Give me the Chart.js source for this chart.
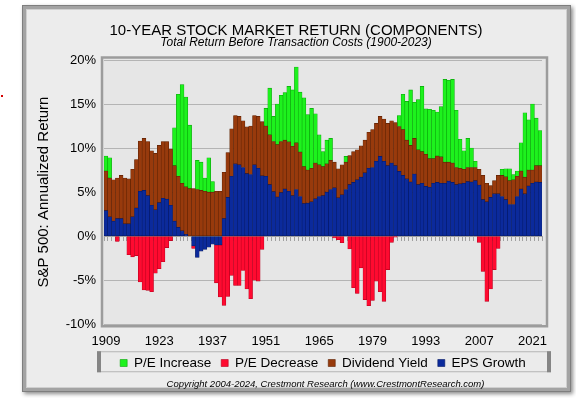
<!DOCTYPE html>
<html>
<head>
<meta charset="utf-8">
<script src="https://cdn.jsdelivr.net/npm/chart.js@4.4.1/dist/chart.umd.min.js"></script>
<style>
  html, body { margin: 0; padding: 0; background: #fff; }
  #wrap { width: 576px; height: 398px; }
</style>
</head>
<body>
<div id="wrap"><canvas id="chart" width="576" height="398"></canvas></div>
<script>
// 10-year periods ending 1909 ... 2023
const years = [];
for (let y = 1909; y <= 2023; y++) years.push(String(y));

const tickYears = ['1909', '1923', '1937', '1951', '1965', '1979', '1993', '2007', '2021'];

// annualized % contribution of each component
const epsGrowth = [
    2.9, 2.2, 1.7, 2.0, 2.0, 1.4, 1.4, 2.2, 3.2, 5.1,
    5.2, 4.6, 3.5, 3.0, 3.8, 4.3, 4.2, 3.5, 1.7, 1.0,
    0.6, 0.2, 0.0, -1.1, -2.4, -1.7, -1.5, -1.25, -0.9, -1.0,
    -1.0, 2.0, 4.4, 6.8, 8.2, 8.1, 7.8, 7.1, 7.0, 8.1,
    7.7, 6.85, 6.8, 5.85, 5.05, 4.45, 4.95, 5.35, 5.1, 4.6,
    5.3, 4.5, 3.7, 3.75, 3.9, 4.25, 4.5, 4.6, 5.0, 5.3,
    5.5, 4.35, 4.7, 5.3, 5.85, 6.1, 6.4, 6.7, 7.2, 7.7,
    7.8, 8.5, 9.05, 8.5, 8.0, 8.3, 8.0, 7.35, 6.9, 6.5,
    6.15, 7.05, 5.85, 6.0, 5.65, 5.55, 6.0, 6.1, 6.0, 6.0,
    6.25, 6.1, 5.85, 5.95, 6.0, 6.2, 6.15, 6.3, 5.8, 4.15,
    3.9, 4.4, 4.8, 4.8, 4.5, 4.15, 3.6, 3.6, 4.5, 5.35,
    4.8, 5.7, 6.0, 6.15, 6.1
];

const dividendYield = [
    4.5, 4.4, 4.7, 4.6, 4.9, 5.2, 5.1, 5.4, 5.5, 5.7,
    5.9, 6.15, 6.2, 6.4, 6.5, 6.45, 6.55, 6.4, 6.3, 5.8,
    5.4, 5.4, 5.4, 5.4, 5.3, 5.2, 5.1, 5.0, 5.0, 5.1,
    5.1, 5.25, 5.1, 5.4, 5.5, 5.5, 5.3, 5.3, 5.5, 5.6,
    5.9, 6.15, 5.7, 5.65, 5.7, 5.95, 5.8, 5.55, 5.6, 5.6,
    5.3, 5.05, 4.2, 3.75, 3.8, 4.05, 3.6, 3.3, 3.2, 3.3,
    2.9, 3.3, 3.4, 3.1, 3.3, 3.5, 3.4, 3.55, 3.7, 4.1,
    4.3, 4.3, 4.55, 4.8, 4.8, 4.8, 4.9, 5.1, 5.2, 4.4,
    4.15, 4.05, 3.95, 3.6, 3.65, 3.25, 2.8, 3.0, 3.0, 2.4,
    2.15, 2.2, 1.95, 1.75, 1.6, 1.6, 1.65, 1.5, 1.8, 2.75,
    2.1, 1.35, 1.5, 2.1, 2.4, 2.6, 2.7, 2.8, 2.3, 2.05,
    1.9, 1.8, 1.5, 1.85, 1.9
];

// change in P/E (positive = increase, negative = decrease)
const peChange = [
    1.7, 2.3, 0, -0.6, 0, 0, -2.1, -2.35, -2.2, -5.2,
    -6.1, -6.15, -6.3, -4.2, -3.7, -2.9, -1.3, -0.5, 4.3, 9.3,
    11.2, 10.2, 7.2, -0.3, 3.3, 3.2, 1.5, 3.9, 1.2, -4.3,
    -5.9, -7.85, -6.85, -4.45, -5.6, -5.6, -3.9, -6.0, -7.1, -5.0,
    -5.1, -1.5, 2.0, 5.3, 2.85, 4.6, 5.25, 5.4, 6.3, 6.4,
    8.6, 6.8, 7.8, 6.3, 6.8, 5.6, 3.4, 1.7, 2.7, 2.5,
    -0.2, -0.4, -0.75, 0.65, -1.45, -5.85, -6.5, -3.6, -7.2, -7.9,
    -7.3, -5.1, -6.3, -7.4, -3.8, -0.7, -0.1, 1.25, 4.0, 4.4,
    6.3, 4.1, 5.7, 7.4, 5.15, 5.6, 5.5, 5.0, 5.7, 9.4,
    9.3, 9.5, 6.5, 3.3, 2.1, 3.3, 2.2, 0.7, -0.7, -4.0,
    -7.4, -6.0, -3.8, -1.4, 0.7, 0.9, 1.35, 0.6, 0.6, 3.2,
    7.3, 5.7, 7.5, 5.4, 4.0
];

const peIncrease = peChange.map(v => v > 0 ? v : null);
const peDecrease = peChange.map(v => v < 0 ? v : null);

const legendOrder = ['P/E Increase', 'P/E Decrease', 'Dividend Yield', 'EPS Growth'];

Chart.defaults.font.family = '"Liberation Sans", Arial, sans-serif';
Chart.defaults.color = '#000';

// panel, plot box, legend box and the footer line
const framePlugin = {
    id: 'frames',
    beforeDraw(chart) {
        const { ctx, chartArea: a } = chart;
        ctx.save();
        ctx.fillStyle = '#fff';
        ctx.fillRect(0, 0, chart.width, chart.height);

        // outer panel
        ctx.shadowColor = 'rgba(0,0,0,0.45)';
        ctx.shadowBlur = 4;
        ctx.shadowOffsetX = 2;
        ctx.shadowOffsetY = 2;
        ctx.fillStyle = '#ececec';
        ctx.fillRect(22, 5, 549, 387);
        ctx.shadowColor = 'transparent';
        ctx.lineWidth = 4;
        ctx.strokeStyle = '#a3a3a3';
        ctx.strokeRect(24, 7, 545, 383);
        ctx.lineWidth = 1;
        ctx.strokeStyle = '#7e7e7e';
        ctx.strokeRect(22.5, 5.5, 548, 386);
        ctx.strokeStyle = '#cfcfcf';
        ctx.strokeRect(26.5, 9.5, 540, 378);

        // plot background
        ctx.fillStyle = '#e6e6e6';
        ctx.fillRect(a.left - 1, a.top - 2, a.right - a.left + 6, a.bottom - a.top + 4);

        // legend box
        const ly = a.bottom + 27;
        const lx = a.left - 7;
        const lw = a.right - a.left + 16;
        ctx.fillStyle = '#ebebeb';
        ctx.fillRect(lx, ly, lw, 21);
        ctx.strokeStyle = '#b4b4b4';
        ctx.strokeRect(lx + 0.5, ly + 0.5, lw - 1, 20);
        ctx.fillStyle = '#858585';
        ctx.fillRect(lx, ly, 4, 21);
        ctx.fillRect(lx + lw - 4, ly, 4, 21);

        // red mark at the far left
        ctx.fillStyle = '#d40000';
        ctx.fillRect(1, 95, 2, 2);
        ctx.restore();
    },
    afterDraw(chart) {
        const { ctx, chartArea: a } = chart;
        ctx.save();
        ctx.lineWidth = 2.5;
        ctx.strokeStyle = '#9c9c9c';
        ctx.strokeRect(a.left - 2, a.top - 2.5, a.right - a.left + 7, a.bottom - a.top + 4.5);

        ctx.fillStyle = '#000';
        ctx.font = 'italic 9.5px "Liberation Sans", Arial, sans-serif';
        ctx.textAlign = 'center';
        ctx.textBaseline = 'middle';
        ctx.fillText('Copyright 2004-2024, Crestmont Research (www.CrestmontResearch.com)',
            (a.left + a.right + 5) / 2, 384);
        ctx.restore();
    }
};

const barStyle = { barPercentage: 1, categoryPercentage: 1, borderWidth: 0.6, borderSkipped: false };

new Chart(document.getElementById('chart'), {
    type: 'bar',
    data: {
        labels: years,
        datasets: [
            Object.assign({ label: 'EPS Growth', data: epsGrowth, backgroundColor: '#0b2a9c', borderColor: '#061a66' }, barStyle),
            Object.assign({ label: 'Dividend Yield', data: dividendYield, backgroundColor: '#983a0c', borderColor: '#5e2204' }, barStyle),
            Object.assign({ label: 'P/E Increase', data: peIncrease, backgroundColor: '#1df21d', borderColor: '#0aa40a' }, barStyle),
            Object.assign({ label: 'P/E Decrease', data: peDecrease, backgroundColor: '#ff0a30', borderColor: '#b8001e' }, barStyle),
        ],
    },
    options: {
        responsive: false,
        animation: false,
        devicePixelRatio: 1,
        layout: { padding: { top: 23.5, left: 22, right: 6, bottom: 18.25 } },
        scales: {
            x: {
                stacked: true,
                grid: { display: false, drawTicks: false },
                border: { display: false },
                ticks: {
                    autoSkip: false,
                    maxRotation: 0,
                    padding: 9.5,
                    font: { size: 13 },
                    callback: function(val) {
                        const y = this.getLabelForValue(val);
                        return tickYears.includes(y) ? y : '';
                    },
                },
                afterFit: s => { s.height -= 12.6; },
            },
            xZero: {
                type: 'category',
                position: { y: 0 },
                offset: true,
                grid: { display: true, drawOnChartArea: false, drawTicks: true, tickLength: 4, color: '#a0a0a0', offset: true },
                border: { display: true, color: '#a0a0a0' },
                ticks: { display: false },
            },
            y: {
                stacked: true,
                min: -10,
                max: 20,
                ticks: { stepSize: 5, padding: 8, font: { size: 13 }, callback: v => v + '%' },
                grid: { color: '#b4b4b4', drawTicks: false },
                border: { display: false },
                title: {
                    display: true,
                    text: 'S&P 500: Annualized Return',
                    font: { size: 15 },
                    padding: { top: 13, bottom: 0 },
                },
                afterFit: s => { s.width = 82; },
            },
            yRight: {
                type: 'linear',
                position: 'right',
                grid: { display: false },
                border: { display: false },
                ticks: { display: false },
                afterFit: s => { s.width = 28; },
            },
        },
        plugins: {
            title: {
                display: true,
                text: '10-YEAR STOCK MARKET RETURN (COMPONENTS)',
                font: { size: 15, weight: 'normal', lineHeight: 1 },
                padding: { top: 0, bottom: -2 },
            },
            subtitle: {
                display: true,
                text: 'Total Return Before Transaction Costs (1900-2023)',
                font: { size: 12, style: 'italic', lineHeight: 0.8 },
                color: '#000',
                padding: { top: 1, bottom: 12.9 },
            },
            legend: {
                position: 'bottom',
                fullSize: false,
                labels: {
                    boxWidth: 7,
                    boxHeight: 7,
                    padding: 10,
                    font: { size: 13.5 },
                    sort: (a, b) => legendOrder.indexOf(a.text) - legendOrder.indexOf(b.text),
                },
            },
            tooltip: { enabled: false },
        },
    },
    plugins: [framePlugin],
});
</script>
</body>
</html>
